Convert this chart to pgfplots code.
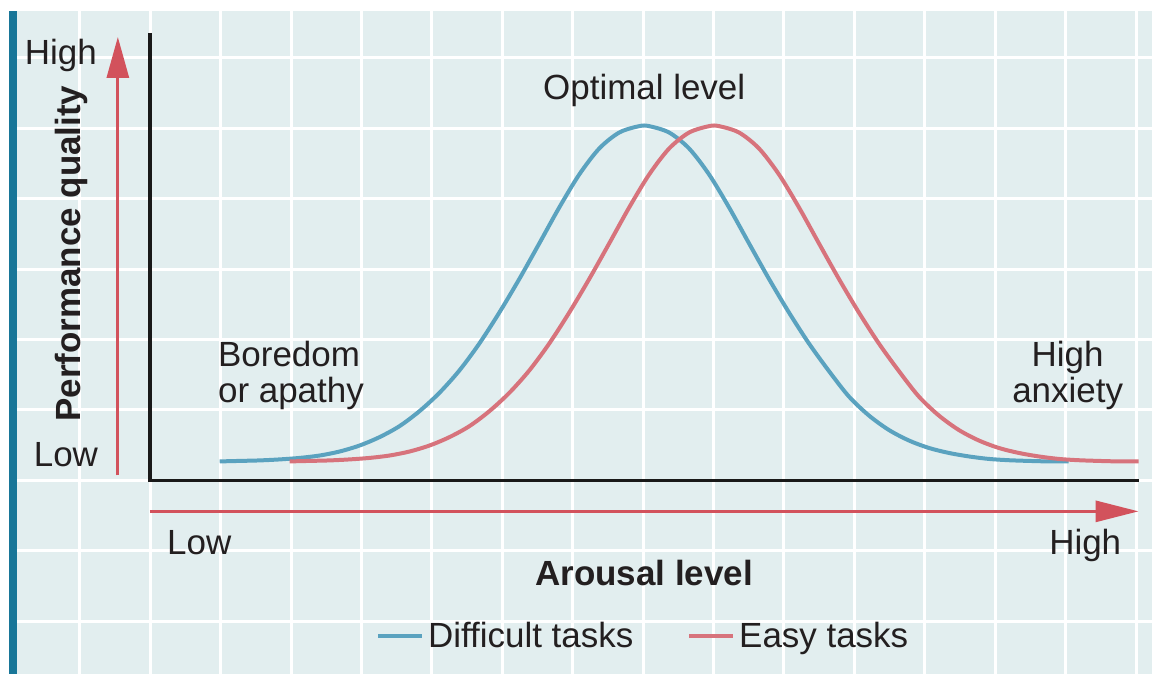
\documentclass[border=0pt]{standalone}
\usepackage{pgfplots}
\pgfplotsset{compat=1.18}
\usepackage{fontspec}
\setmainfont{Liberation Sans}
\usetikzlibrary{arrows.meta}
\definecolor{bgc}{RGB}{226,238,239}
\definecolor{tealc}{RGB}{24,118,152}
\definecolor{blc}{RGB}{90,162,191}
\definecolor{rdc}{RGB}{215,115,124}
\definecolor{arc}{RGB}{210,82,92}
\definecolor{txc}{RGB}{35,31,32}
\newcommand{\fs}{\fontsize{17.5}{21}\selectfont}
\begin{document}
\begin{tikzpicture}
\begin{axis}[
  scale only axis, width=576.5pt, height=337.5pt,
  xmin=0, xmax=1153, ymin=0, ymax=675, y dir=reverse,
  hide axis, clip=false,
  legend style={at={(axis cs:645,637)}, anchor=center, draw=none, fill=none,
    legend columns=2, font=\fs, text=txc,
    /tikz/every even column/.append style={column sep=25pt}},
  legend image code/.code={\draw[#1] (0pt,0pt) -- (22pt,0pt);},
]
\fill[white] (axis cs:0,0) rectangle (axis cs:1153,675);
\fill[bgc] (axis cs:9,11) rectangle (axis cs:1153,675);
\pgfplotsinvokeforeach{80,150.5,221,291.5,362,432.5,503,573.5,644,714.5,785,855.5,926,996.5,1067,1137.5}{
  \draw[white, line width=1.5pt] (axis cs:#1,11) -- (axis cs:#1,675);
}
\pgfplotsinvokeforeach{58,128.5,199,269.5,340,410.5,481,551.5,622}{
  \draw[white, line width=1.5pt] (axis cs:17,#1) -- (axis cs:1153,#1);
}
\fill[tealc] (axis cs:9,11) rectangle (axis cs:17,675);

\addplot[blc, line width=2pt, smooth] coordinates {
(220,462) (240,461.5) (260,461) (280,460) (300,458.5) (320,456.1) (340,452.1)
(360,446.1) (380,437.7) (400,426.7) (420,411.7) (440,393.3) (460,370.9) (480,343.9)
(500,312.9) (520,279.3) (540,243.7) (560,207.7) (580,174.7) (600,148.7) (620,132.7)
(640,126.3) (650,126.3) (670,132.7) (690,148.7) (710,174.7) (730,207.7) (750,243.7)
(770,279.3) (790,312.9) (810,343.9) (830,371.5) (850,397) (870,416) (890,430.5)
(910,441) (930,448.5) (950,453.5) (970,457) (990,459.5) (1010,460.8) (1030,461.5)
(1050,462) (1070,462)
};
\addlegendentry{Difficult tasks}
\addplot[rdc, line width=2pt, smooth] coordinates {
(290,462) (310,461.5) (330,461) (350,460) (370,458.5) (390,456.1) (410,452.1)
(430,446.1) (450,437.7) (470,426.7) (490,411.7) (510,393.3) (530,370.9) (550,343.9)
(570,312.9) (590,279.3) (610,243.7) (630,207.7) (650,174.7) (670,148.7) (690,132.7)
(710,126.3) (720,126.3) (740,132.7) (760,148.7) (780,174.7) (800,207.7) (820,243.7)
(840,279.3) (860,312.9) (880,343.9) (900,371.5) (920,397) (940,416) (960,430.5)
(980,441) (1000,448.5) (1020,453.5) (1040,457) (1060,459.5) (1080,460.8) (1100,461.5)
(1120,462) (1140,462)
};
\addlegendentry{Easy tasks}

\draw[black!90, line width=1.75pt] (axis cs:150,33) -- (axis cs:150,481) -- (axis cs:1140,481);
\draw[arc, line width=1.5pt, -{Triangle[length=20.5pt,width=11pt]}] (axis cs:118,476) -- (axis cs:118,37);
\draw[arc, line width=1.5pt, -{Triangle[length=21.5pt,width=10.5pt]}] (axis cs:150,512) -- (axis cs:1140,512);

\node[anchor=base, inner sep=0, text=txc, font=\fs] at (axis cs:61,65) {High};
\node[anchor=base, inner sep=0, text=txc, font=\fs] at (axis cs:66,467) {Low};
\node[rotate=90, inner sep=0, text=txc, font=\fs\bfseries] at (axis cs:72,254) {Performance quality};
\node[anchor=base, inner sep=0, text=txc, font=\fs] at (axis cs:645,100) {Optimal level};
\node[anchor=base west, inner sep=0, text=txc, font=\fs] at (axis cs:218,367) {Boredom};
\node[anchor=base west, inner sep=0, text=txc, font=\fs] at (axis cs:218,403) {or apathy};
\node[anchor=base, inner sep=0, text=txc, font=\fs] at (axis cs:1069,367) {High};
\node[anchor=base, inner sep=0, text=txc, font=\fs] at (axis cs:1069,403) {anxiety};
\node[anchor=base west, inner sep=0, text=txc, font=\fs] at (axis cs:167,555) {Low};
\node[anchor=base east, inner sep=0, text=txc, font=\fs] at (axis cs:1123,555) {High};
\node[anchor=base, inner sep=0, text=txc, font=\fs\bfseries] at (axis cs:645,586) {Arousal level};
\end{axis}
\end{tikzpicture}
\end{document}
